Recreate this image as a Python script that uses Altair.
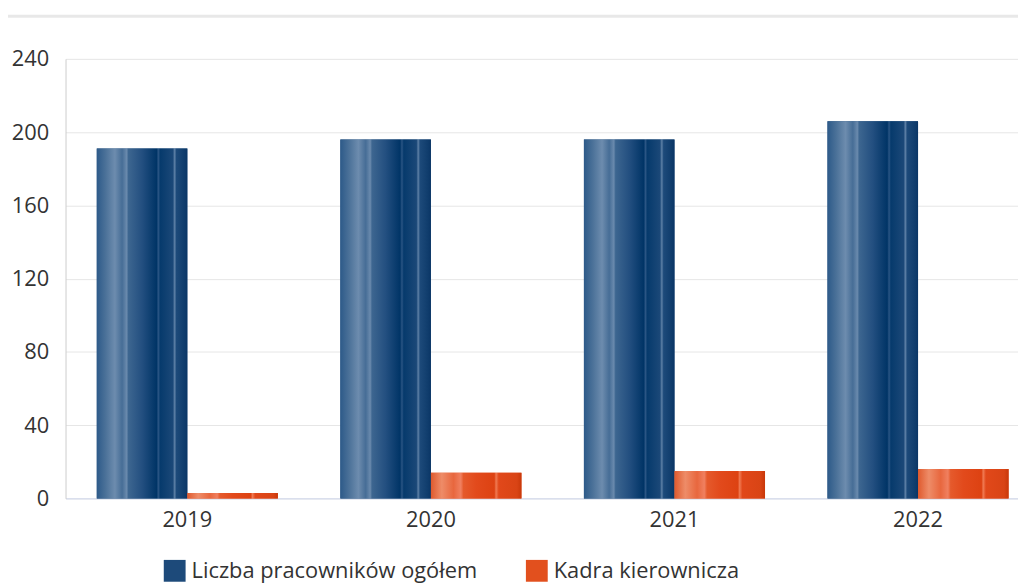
import altair as alt
import pandas as pd

years = ["2019", "2020", "2021", "2022"]
series = ["Liczba pracowników ogółem", "Kadra kierownicza"]
total = [191, 196, 196, 206]
managers = [3, 14, 15, 16]
y_ticks = [0, 40, 80, 120, 160, 200, 240]

rows = []
for i, yr in enumerate(years):
    rows.append({"year": yr, "series": series[0], "value": total[i]})
    rows.append({"year": yr, "series": series[1], "value": managers[i]})
df = pd.DataFrame(rows)

FONT = "Open Sans"
W, H = 960, 443

blue_grad = {
    "gradient": "linear", "x1": 0, "y1": 0, "x2": 1, "y2": 0,
    "stops": [
        {"offset": 0.0, "color": "#2d5a89"},
        {"offset": 0.1, "color": "#4c7299"},
        {"offset": 0.2, "color": "#6d8cae"},
        {"offset": 0.28, "color": "#466d96"},
        {"offset": 0.33, "color": "#6a8aad"},
        {"offset": 0.35, "color": "#3d6690"},
        {"offset": 0.5, "color": "#234f80"},
        {"offset": 0.66, "color": "#003466"},
        {"offset": 0.68, "color": "#2a5584"},
        {"offset": 0.7, "color": "#063a6c"},
        {"offset": 0.84, "color": "#1b4878"},
        {"offset": 0.86, "color": "#5d80a6"},
        {"offset": 0.88, "color": "#1d4a7a"},
        {"offset": 0.97, "color": "#0f3c6c"},
        {"offset": 1.0, "color": "#0a3565"},
    ],
}
orange_grad = {
    "gradient": "linear", "x1": 0, "y1": 0, "x2": 1, "y2": 0,
    "stops": [
        {"offset": 0.0, "color": "#df5a2e"},
        {"offset": 0.12, "color": "#ee8c68"},
        {"offset": 0.25, "color": "#e8673e"},
        {"offset": 0.33, "color": "#f08060"},
        {"offset": 0.36, "color": "#e55a2c"},
        {"offset": 0.5, "color": "#e24a1c"},
        {"offset": 0.7, "color": "#dd4212"},
        {"offset": 0.72, "color": "#f07a52"},
        {"offset": 0.75, "color": "#e1481a"},
        {"offset": 0.95, "color": "#d94415"},
        {"offset": 1.0, "color": "#c8380a"},
    ],
}

x_enc = alt.X(
    "year:N",
    scale=alt.Scale(domain=years, range=[0, 982], paddingInner=0, paddingOuter=0),
    axis=alt.Axis(
        title=None, labelAngle=0, ticks=False, grid=False,
        domainColor="#ccd6eb", domainWidth=1,
        labelFont=FONT, labelFontSize=22, labelColor="#333333", labelPadding=11,
    ),
)
xo_enc = alt.XOffset(
    "series:N",
    scale=alt.Scale(domain=series, paddingInner=0, paddingOuter=0.345),
)
y_enc = alt.Y(
    "value:Q",
    scale=alt.Scale(domain=[0, 240], nice=False),
    axis=alt.Axis(
        title=None, values=y_ticks, ticks=False, grid=True,
        gridColor="#e6e6e6", domainColor="#cccccc",
        labelFont=FONT, labelFontSize=22, labelColor="#333333", labelPadding=17,
    ),
)

base = alt.Chart(df)

legend_bars = base.mark_bar().encode(
    x=x_enc,
    xOffset=xo_enc,
    y=y_enc,
    color=alt.Color(
        "series:N",
        scale=alt.Scale(domain=series, range=["#1d4a7a", "#e2501e"]),
        legend=alt.Legend(
            title=None, orient="none", legendX=99, legendY=505,
            direction="horizontal", columns=2, columnPadding=48,
            symbolType="square", symbolSize=484, symbolStrokeWidth=0,
            labelFont=FONT, labelFontSize=22, labelColor="#333333",
            labelOffset=6, labelLimit=400,
        ),
    ),
)

blue_bars = base.transform_filter(
    alt.datum.series == series[0]
).mark_bar(fill=blue_grad).encode(x=x_enc, xOffset=xo_enc, y=y_enc)

orange_bars = base.transform_filter(
    alt.datum.series == series[1]
).mark_bar(fill=orange_grad).encode(x=x_enc, xOffset=xo_enc, y=y_enc)

header_line = alt.Chart(alt.Data(values=[{"a": 1}])).mark_rule(
    color="#e8e8e8", strokeWidth=3
).encode(x=alt.value(-61), x2=alt.value(W), y=alt.value(-43))

chart = alt.layer(header_line, legend_bars, blue_bars, orange_bars).properties(
    width=W, height=H,
    autosize=alt.AutoSizeParams(type="none"),
    padding={"left": 58, "top": 49, "right": 0, "bottom": 83},
    background="white",
).configure_view(stroke=None)

chart.save("out.html", embed_options={"renderer": "svg", "actions": False})
